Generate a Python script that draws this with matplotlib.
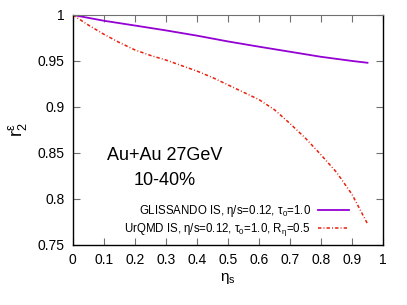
import matplotlib
matplotlib.use('Agg')
import matplotlib.pyplot as plt

plt.rcParams['font.family'] = ['Liberation Sans', 'DejaVu Sans']
plt.rcParams['mathtext.fontset'] = 'custom'
plt.rcParams['mathtext.rm'] = 'Liberation Sans'
plt.rcParams['mathtext.it'] = 'Liberation Sans'
plt.rcParams['mathtext.default'] = 'regular'

# data
eta_glis = [0.0, 0.1, 0.2, 0.3, 0.4, 0.5, 0.6, 0.7, 0.8, 0.9, 0.95]
r2_glis = [1.0, 0.9937, 0.9885, 0.9832, 0.9775, 0.9712, 0.9655, 0.960, 0.9545, 0.950, 0.948]

eta_urqmd = [0.0, 0.05, 0.1, 0.15, 0.2, 0.25, 0.3, 0.35, 0.4, 0.45, 0.5, 0.55, 0.6,
             0.65, 0.7, 0.75, 0.8, 0.85, 0.9, 0.95]
r2_urqmd = [1.0, 0.989, 0.979, 0.970, 0.962, 0.956, 0.951, 0.945, 0.939, 0.932, 0.924,
            0.916, 0.908, 0.897, 0.882, 0.866, 0.848, 0.829, 0.805, 0.773]

label_glis = r'GLISSANDO IS, $\eta$/s=0.12, $\tau_0$=1.0'
label_urqmd = r'UrQMD IS, $\eta$/s=0.12, $\tau_0$=1.0, R$_\eta$=0.5'

fig = plt.figure(figsize=(4.07, 3.05), dpi=100)
ax = fig.add_axes([0.179, 0.197, 0.762, 0.754])

ax.plot(eta_glis, r2_glis, color='#9400d3', lw=1.3, label=label_glis)
ax.plot(eta_urqmd, r2_urqmd, color='#e8200c', lw=1.1, dashes=(2.2, 1.4, 0.6, 1.4), label=label_urqmd)

ax.set_xlim(0, 1)
ax.set_ylim(0.75, 1.0)
ax.set_xticks([0, 0.1, 0.2, 0.3, 0.4, 0.5, 0.6, 0.7, 0.8, 0.9, 1])
ax.set_xticklabels(['0', '0.1', '0.2', '0.3', '0.4', '0.5', '0.6', '0.7', '0.8', '0.9', '1'])
ax.set_yticks([0.75, 0.8, 0.85, 0.9, 0.95, 1.0])
ax.set_yticklabels(['0.75', '0.8', '0.85', '0.9', '0.95', '1'])
ax.tick_params(direction='in', length=5, width=0.8, labelsize=10, top=True, right=True,
               color='#707070', pad=6)
for s in ['left', 'bottom', 'right']:
    ax.spines[s].set_linewidth(1.0)
ax.spines['top'].set_color('#707070')

ax.set_xlabel(r'$\eta_s$', fontsize=11, labelpad=3)
ax.set_ylabel(r'r$^{\varepsilon}_{2}$', fontsize=13, labelpad=6)

ax.text(0.295, 0.39, 'Au+Au 27GeV', transform=ax.transAxes, ha='center', va='center', fontsize=13)
ax.text(0.295, 0.28, '10-40%', transform=ax.transAxes, ha='center', va='center', fontsize=13)

ax.legend(loc='lower right', frameon=False, markerfirst=False, fontsize=8.3,
          handlelength=2.7, handletextpad=0.6, borderaxespad=0.0, labelspacing=0.15,
          bbox_to_anchor=(0.905, 0.01))

fig.savefig('out.png', dpi=100)
